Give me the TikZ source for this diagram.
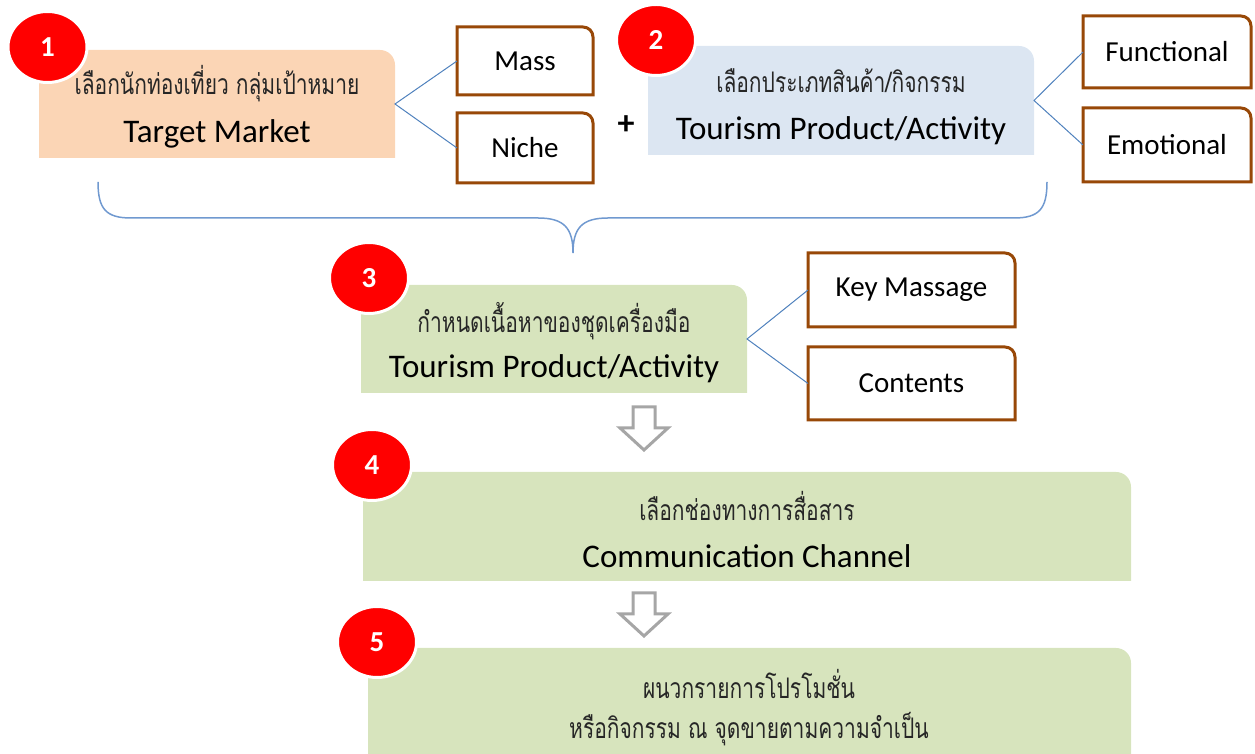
\documentclass[tikz,border=0pt]{standalone}
\usepackage{fontspec}
\usepackage{graphicx}
\setmainfont{Carlito}
\newfontfamily\thaifont[Script=Thai]{Loma}
\usetikzlibrary{backgrounds,shapes.geometric}
\definecolor{peach}{HTML}{FBD5B5}
\definecolor{paleblue}{HTML}{DCE6F2}
\definecolor{palegreen}{HTML}{D7E4BD}
\definecolor{brownline}{HTML}{984807}
\definecolor{linkblue}{HTML}{4F81BD}
\definecolor{bracecol}{HTML}{7099D0}
\definecolor{arrowgray}{HTML}{A6A6A6}
\newcommand\onecorner[3]{%
  \path[#3] (#1.south west) -- (#1.north west) -- ([xshift=-#2]#1.north east)
    arc[start angle=90,end angle=0,radius=#2] -- (#1.south east) -- cycle;}
\newcommand\tallthai[1]{\scalebox{1}[1.35]{#1}}
\tikzset{
  holder/.style={rectangle, inner sep=0pt, outer sep=0pt},
  thaitxt/.style={inner sep=0pt, text=black!85, font=\thaifont\fontsize{21pt}{25pt}\selectfont},
  engtxt/.style={inner sep=0pt, font=\fontsize{33pt}{37pt}\selectfont},
  labtxt/.style={holder, font=\fontsize{29pt}{33pt}\selectfont},
  numdisc/.style={ellipse, inner sep=0pt, minimum width=79pt, minimum height=71pt,
    fill=red, draw=white, line width=3pt, text=white,
    font=\bfseries\fontsize{29pt}{32pt}\selectfont},
  link/.style={draw=linkblue, line width=1pt},
  hollowarrow/.style={draw=arrowgray, fill=white, line width=3pt, line join=miter},
  brownbox/.style={draw=brownline, fill=white, line width=3pt}
}
\begin{document}
\begin{tikzpicture}[x=1pt,y=1pt]
\useasboundingbox (0,0) rectangle (1255,754);
\clip (0,0) rectangle (1255,754);

% step boxes (holders)
\node[holder, minimum width=356pt, minimum height=108pt] (b1) at (217,650) {};
\node[holder, minimum width=386pt, minimum height=109pt] (b2) at (841,653.5) {};
\node[holder, minimum width=386pt, minimum height=108pt] (b3) at (554,415) {};
\node[holder, minimum width=768pt, minimum height=109pt] (b4) at (747,227.5) {};
\node[holder, minimum width=763pt, minimum height=130pt] (b5) at (749.5,41) {};

% option boxes
\node[labtxt, minimum width=136pt, minimum height=68pt] (mass) at (525,693) {Mass};
\node[labtxt, minimum width=136pt, minimum height=70pt] (niche) at (525,606) {Niche};
\node[labtxt, minimum width=168pt, minimum height=72pt] (func) at (1167,702) {Functional};
\node[labtxt, minimum width=168pt, minimum height=74pt] (emo) at (1167,609) {Emotional};
\node[labtxt, minimum width=207pt, minimum height=74pt] (key) at (911.5,464) {Key Massage};
\node[labtxt, minimum width=207pt, minimum height=73pt] (cont) at (911.5,370.5) {Contents};

\begin{scope}[on background layer]
  \onecorner{b1}{15pt}{fill=peach}
  \onecorner{b2}{15pt}{fill=paleblue}
  \onecorner{b3}{15pt}{fill=palegreen}
  \onecorner{b4}{15pt}{fill=palegreen}
  \onecorner{b5}{15pt}{fill=palegreen}
  \onecorner{mass}{10pt}{brownbox}
  \onecorner{niche}{10pt}{brownbox}
  \onecorner{func}{10pt}{brownbox}
  \onecorner{emo}{10pt}{brownbox}
  \onecorner{key}{10pt}{brownbox}
  \onecorner{cont}{10pt}{brownbox}
\end{scope}

% texts in step boxes
\node[thaitxt] (t1a) at (217,670) {\tallthai{เลือกนักท่องเที่ยว กลุ่มเป้าหมาย}};
\node[engtxt] (t1b) at (217,620) {Target Market};
\node[thaitxt] (t2a) at (841,673) {\tallthai{เลือกประเภทสินค้า/กิจกรรม}};
\node[engtxt] (t2b) at (841,623) {Tourism Product/Activity};
\node[thaitxt] (t3a) at (554,433) {\tallthai{กำหนดเนื้อหาของชุดเครื่องมือ}};
\node[engtxt] (t3b) at (554,385) {Tourism Product/Activity};
\node[thaitxt] (t4a) at (747,248) {\tallthai{เลือกช่องทางการสื่อสาร}};
\node[engtxt] (t4b) at (747,198) {Communication Channel};
\node[thaitxt] (t5a) at (749,70) {\tallthai{ผนวกรายการโปรโมชั่น}};
\node[thaitxt] (t5b) at (749,25) {\tallthai{หรือกิจกรรม ณ จุดขายตามความจำเป็น}};

% plus
\node[inner sep=0pt, font=\bfseries\fontsize{34pt}{36pt}\selectfont] (plus) at (626,629) {+};

% connectors
\draw[link] (mass.west) -- (b1.east) -- (niche.west);
\draw[link] (func.west) -- (b2.east) -- (emo.west);
\draw[link] (key.west) -- (b3.east) -- (cont.west);

% brace
\coordinate (brL) at (98,572);
\coordinate (brR) at (1047,572);
\coordinate (brTip) at (573,501);
\draw[draw=bracecol, line width=1.5pt]
  (brL) .. controls (98,545) and (106,536) .. (131,536) -- (538,536)
  .. controls (564,536) and (573,526) .. (brTip)
  .. controls (573,526) and (582,536) .. (608,536) -- (1014,536)
  .. controls (1039,536) and (1047,545) .. (brR);

% hollow arrows
\path[hollowarrow] (633,347) -- (655,347) -- (655,326) -- (668,326) -- (644,304)
  -- (620,326) -- (633,326) -- cycle;
\path[hollowarrow] (633,161) -- (655,161) -- (655,140) -- (668,140) -- (644,118)
  -- (620,140) -- (633,140) -- cycle;

% number discs
\node[numdisc] (n1) at (47.5,707) {1};
\node[numdisc] (n2) at (656,714) {2};
\node[numdisc] (n3) at (369,476) {3};
\node[numdisc] (n4) at (372,289) {4};
\node[numdisc] (n5) at (377,112) {5};
\end{tikzpicture}
\end{document}
